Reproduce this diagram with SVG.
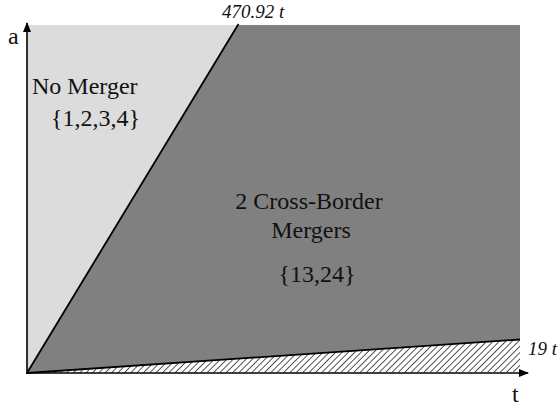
<svg xmlns="http://www.w3.org/2000/svg" width="558" height="407" viewBox="0 0 558 407">
<style>
.lbl{font-family:"Liberation Serif","Times New Roman",serif;font-size:24px;fill:#111}
.it{font-family:"Liberation Serif","Times New Roman",serif;font-style:italic;font-size:19px;fill:#111}
.ax{stroke:#000;stroke-width:1.6;fill:none}
.bd{stroke:#000;stroke-width:1.8;fill:none}
</style>
<defs>
<pattern id="hatch" patternUnits="userSpaceOnUse" width="4.5" height="4.5" patternTransform="rotate(45)">
<rect width="4.5" height="4.5" fill="#ffffff"/>
<line x1="0" y1="0" x2="0" y2="4.5" stroke="#444" stroke-width="1.8"/>
</pattern>
<marker id="arr" markerWidth="10" markerHeight="8" refX="9" refY="4" orient="auto" markerUnits="userSpaceOnUse">
<path d="M0,0 L10,4 L0,8 Z" fill="#000"/>
</marker>
</defs>
<g id="region-no-merger">
<polygon points="27,25 238,25 27,373" fill="#dcdcdc"/>
<text class="lbl" x="32" y="94">No Merger</text>
<text class="lbl" x="51" y="126">{1,2,3,4}</text>
</g>
<g id="region-cross-border">
<polygon points="27,373 238,25 520,25 520,340" fill="#808080"/>
<text class="lbl" x="309" y="209" text-anchor="middle">2 Cross-Border</text>
<text class="lbl" x="311" y="238" text-anchor="middle">Mergers</text>
<text class="lbl" x="317" y="282" text-anchor="middle">{13,24}</text>
</g>
<g id="region-hatched">
<polygon points="27,373 520,340 520,372" fill="url(#hatch)"/>
</g>
<g id="connectors">
<line class="bd" x1="27" y1="373" x2="238.5" y2="24"/>
<line class="bd" x1="27" y1="373" x2="520" y2="339.5"/>
<line class="ax" x1="27" y1="374" x2="27" y2="23" marker-end="url(#arr)"/>
<line class="ax" x1="26" y1="373" x2="528" y2="373" marker-end="url(#arr)"/>
</g>
<g id="labels">
<text class="lbl" x="8" y="44">a</text>
<text class="lbl" x="512" y="402">t</text>
<text class="it" x="222" y="18">470.92 t</text>
<text class="it" x="528" y="355">19 t</text>
</g>
</svg>
